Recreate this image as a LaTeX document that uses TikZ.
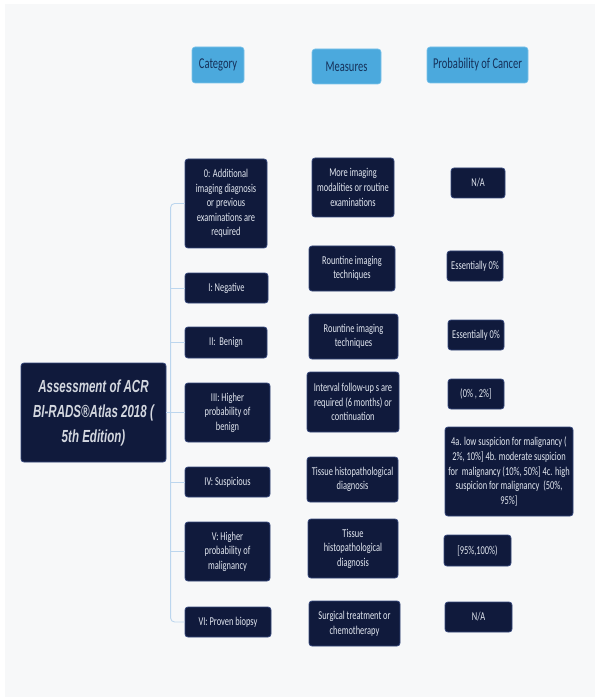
\documentclass[tikz,border=0pt]{standalone}
\usepackage{fontspec}
\setmainfont{Carlito}[FakeStretch=0.7]
\newfontfamily\titlefont{Liberation Sans}[FakeStretch=0.66]
\usepackage{tikz}
\usetikzlibrary{calc}

\definecolor{bggray}{HTML}{F7F8F9}
\definecolor{navy}{HTML}{101A3C}
\definecolor{navyedge}{HTML}{34467A}
\definecolor{paletext}{HTML}{E2E7F0}
\definecolor{headblue}{HTML}{4BA9DD}
\definecolor{headedge}{HTML}{7CC3EA}
\definecolor{headtext}{HTML}{15315A}
\definecolor{linkblue}{HTML}{BCD6EE}

\tikzset{
  box/.style={draw=navyedge,fill=navy,rounded corners=3pt,line width=0.8pt,
    text=paletext,align=center,inner sep=0pt,
    font=\fontsize{12}{14.6}\selectfont},
  head/.style={draw=headedge,fill=headblue,rounded corners=3pt,line width=0.6pt,
    text=headtext,align=center,inner sep=0pt,
    font=\fontsize{15}{17}\selectfont},
  link/.style={draw=linkblue,line width=0.9pt},
  sz/.style 2 args={minimum width=#1pt,minimum height=#2pt}
}

\begin{document}
\begin{tikzpicture}[x=1pt,y=-1pt]
	\useasboundingbox (0,0) rectangle (598,700);
	\fill[bggray] (5,4) rectangle (595,697);
	% column heads
	\node[head,sz={52}{36}] (H1) at (218,65) {Category};
	\node[head,sz={69}{35}] (H2) at (346.5,66.5) {Measures};
	\node[head,sz={101}{36}] (H3) at (477.5,65) {Probability of Cancer};
	% root
	\node[box,sz={145}{99},font=\titlefont\bfseries\itshape\fontsize{17.5}{25}\selectfont,text=paletext!85!gray] (T) at (93.5,412.5)
	     {Assessment of ACR\\BI-RADS\textregistered Atlas 2018 (\\5th Edition)};
	% category
	\node[box,sz={82}{89}] (C0) at (226,203.5) {0: Additional\\imaging diagnosis\\or previous\\examinations are\\required};
	\node[box,sz={83}{30}] (C1) at (226.5,288) {I: Negative};
	\node[box,sz={82}{31}] (C2) at (226,342.5) {II:\ \ Benign};
	\node[box,sz={85}{59}] (C3) at (227.5,412.5) {III: Higher\\probability of\\benign};
	\node[box,sz={85}{30}] (C4) at (227.5,482) {IV: Suspicious};
	\node[box,sz={85}{59}] (C5) at (227.5,551.5) {V: Higher\\probability of\\malignancy};
	\node[box,sz={86}{30}] (C6) at (228,622) {VI: Proven biopsy};
	% measures
	\node[box,sz={82}{59}] (M0) at (353,187.5) {More imaging\\modalities or routine\\examinations};
	\node[box,sz={86}{45}] (M1) at (352,268.5) {Rountine imaging\\techniques};
	\node[box,sz={89}{45}] (M2) at (353.5,336.5) {Rountine imaging\\techniques};
	\node[box,sz={92}{60}] (M3) at (353,402) {Interval follow-up s are\\required (6 months) or\\continuation};
	\node[box,sz={91}{45}] (M4) at (352.5,479.5) {Tissue histopathological\\diagnosis};
	\node[box,sz={90}{59}] (M5) at (353,548.5) {Tissue\\histopathological\\diagnosis};
	\node[box,sz={91}{45}] (M6) at (354.5,623.5) {Surgical treatment or\\chemotherapy};
	% probability
	\node[box,sz={54}{30}] (P0) at (478,183) {N/A};
	\node[box,sz={56}{30}] (P1) at (475,266) {Essentially 0\%};
	\node[box,sz={56}{30}] (P2) at (476,335) {Essentially 0\%};
	\node[box,sz={56}{30}] (P3) at (476,394) {(0\% , 2\%]};
	\node[box,sz={128}{89}] (P4) at (509,471.5)
	     {4a. low suspicion for malignancy (\\2\%, 10\%] 4b. moderate suspicion\\for\ \ malignancy (10\%, 50\%] 4c. high\\suspicion for malignancy\ \ (50\%,\\95\%]};
	\node[box,sz={67}{31}] (P5) at (477.5,550.5) {[95\%,100\%)};
	\node[box,sz={67}{30}] (P6) at (478.5,617) {N/A};
	% connectors
	\draw[link,rounded corners=4pt] (C0.west) -- ++(-14,0) |- (C6.west);
	\path[link]
	     (C1.west) edge ++(-14,0)  (C2.west) edge ++(-14,0)
	     (C3.west) edge ++(-14,0)  (C4.west) edge ++(-14,0)
	     (C5.west) edge ++(-14,0)  (T.east) edge ++(5,0);
\end{tikzpicture}
\end{document}
